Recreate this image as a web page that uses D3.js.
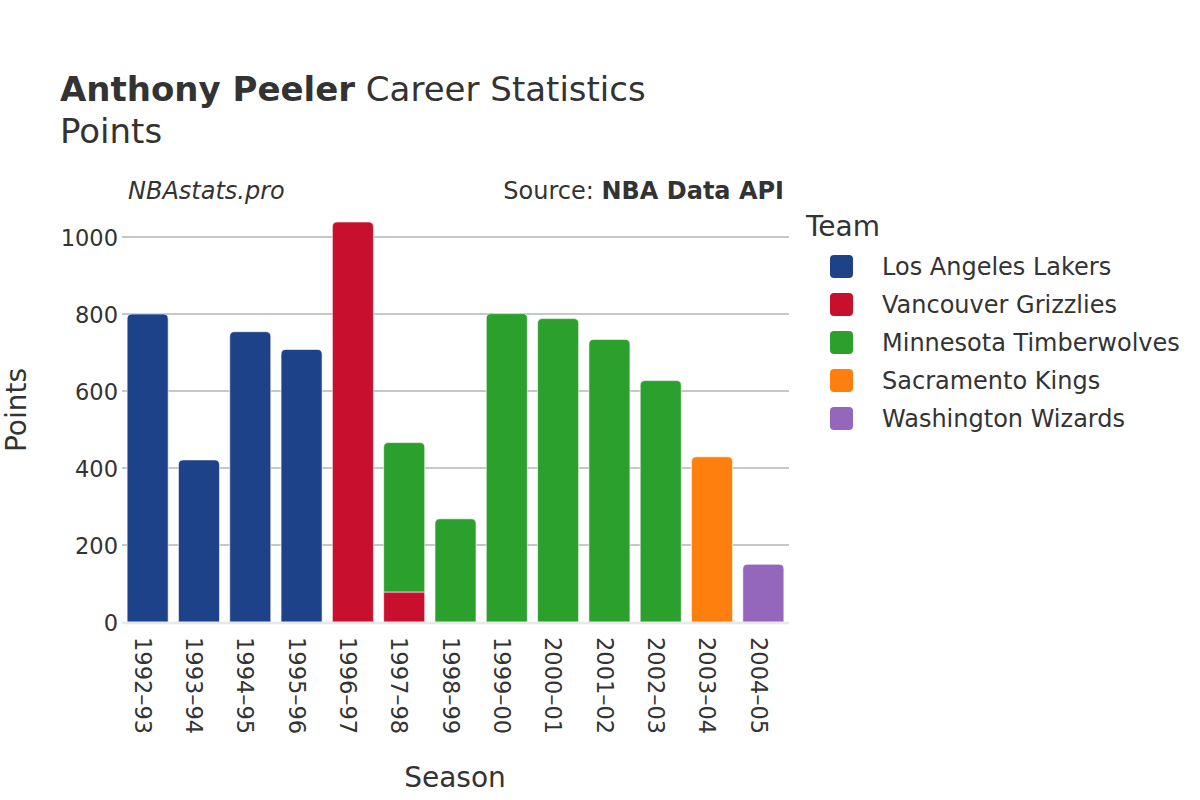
<!DOCTYPE html>
<html><head><meta charset="utf-8">
<script src="https://cdn.jsdelivr.net/npm/d3@7"></script>
<style>body{margin:0;background:#fff;} svg{display:block;font-family:"DejaVu Sans",sans-serif;}</style>
</head><body>
<svg id="chart" width="1200" height="800"></svg>
<script>
const seasons = ["1992–93","1993–94","1994–95","1995–96","1996–97","1997–98","1998–99","1999–00","2000–01","2001–02","2002–03","2003–04","2004–05"];
const teams = ["Los Angeles Lakers","Vancouver Grizzlies","Minnesota Timberwolves","Sacramento Kings","Washington Wizards"];
const teamColors = ["#1d428a","#c8102e","#2ca02c","#ff7f0e","#9467bd"];
const lakers       = [800, 421, 754, 708, 0, 0, 0, 0, 0, 0, 0, 0, 0];
const grizzlies    = [0, 0, 0, 0, 1039, 78, 0, 0, 0, 0, 0, 0, 0];
const timberwolves = [0, 0, 0, 0, 0, 388, 268, 801, 788, 734, 627, 0, 0];
const kings        = [0, 0, 0, 0, 0, 0, 0, 0, 0, 0, 0, 429, 0];
const wizards      = [0, 0, 0, 0, 0, 0, 0, 0, 0, 0, 0, 0, 150];
const yTicks = [0, 200, 400, 600, 800, 1000];

(function(){
const seriesVals = [lakers, grizzlies, timberwolves, kings, wizards];
const svg = d3.select("#chart");
const pLeft = 122, pRight = 789, pBottom = 622;

const x = d3.scaleBand().domain(seasons).range([pLeft, pRight]).paddingInner(0.2).paddingOuter(0.1);
const y = d3.scaleLinear().domain([0, 1000]).range([pBottom, pBottom - 385]);

// grid
svg.append("g").selectAll("line").data(yTicks.filter(d => d > 0)).join("line")
  .attr("x1", pLeft).attr("x2", pRight)
  .attr("y1", d => y(d)).attr("y2", d => y(d))
  .attr("stroke", "#b4b4b4").attr("stroke-width", 1.3);

// stacked bars
const rows = seasons.map((s, i) => {
  const r = {season: s};
  teams.forEach((t, k) => r[t] = seriesVals[k][i]);
  return r;
});
const stack = d3.stack().keys(teams)(rows);
const rad = 5;
function barPath(x0, w, y0, y1, roundTop) {
  if (!roundTop) return `M${x0},${y0}V${y1}H${x0+w}V${y0}Z`;
  const rr = Math.min(rad, (y0 - y1));
  return `M${x0},${y0}V${y1+rr}Q${x0},${y1} ${x0+rr},${y1}H${x0+w-rr}Q${x0+w},${y1} ${x0+w},${y1+rr}V${y0}Z`;
}
const topIdx = seasons.map((s, i) => {
  let t = -1; seriesVals.forEach((v, k) => { if (v[i] > 0) t = k; }); return t;
});
stack.forEach((layer, k) => {
  svg.append("g").selectAll("path").data(layer.filter((d, i) => seriesVals[k][i] > 0)).join("path")
    .attr("d", d => {
      const i = seasons.indexOf(d.data.season);
      return barPath(x(d.data.season), x.bandwidth(), y(d[0]), y(d[1]), topIdx[i] === k);
    })
    .attr("fill", teamColors[k])
    .attr("stroke", "rgba(255,255,255,0.6)").attr("stroke-width", 1);
});

// zero line
svg.append("line").attr("x1", pLeft).attr("x2", pRight).attr("y1", y(0)+1).attr("y2", y(0)+1)
  .attr("stroke", "#e8e8e8").attr("stroke-width", 2.5);

// y axis labels
const yAxis = d3.axisLeft(y).tickValues(yTicks).tickSize(0).tickPadding(4).tickFormat(d3.format("d"));
const gy = svg.append("g").attr("transform", `translate(${pLeft},0)`).call(yAxis);
gy.select(".domain").remove();
gy.selectAll("text").attr("font-size", 22.5).attr("fill", "#333").attr("font-family", "DejaVu Sans").attr("dy", "0.36em");

// x axis labels rotated
const xAxis = d3.axisBottom(x).tickSize(0).tickPadding(0);
const gx = svg.append("g").attr("transform", `translate(0,${pBottom})`).call(xAxis);
gx.select(".domain").remove();
gx.selectAll("text").attr("font-size", 22.5).attr("fill", "#333").attr("font-family", "DejaVu Sans")
  .attr("transform", "rotate(90)").attr("text-anchor", "start").attr("x", 15).attr("y", 0).attr("dy", "0.57em");

// titles
const title = svg.append("text").attr("x", 60).attr("y", 101).attr("font-size", 34).attr("fill", "#333");
title.append("tspan").attr("font-weight", "bold").text("Anthony Peeler");
title.append("tspan").text(" Career Statistics");
svg.append("text").attr("x", 60).attr("y", 143).attr("font-size", 34).attr("fill", "#333").text("Points");

svg.append("text").attr("x", 128).attr("y", 199).attr("font-size", 24).attr("font-style", "italic").attr("fill", "#333").text("NBAstats.pro");
const src = svg.append("text").attr("x", 784).attr("y", 199).attr("font-size", 24).attr("text-anchor", "end").attr("fill", "#333");
src.append("tspan").text("Source: ");
src.append("tspan").attr("font-weight", "bold").text("NBA Data API");

svg.append("text").attr("transform", "translate(26,410) rotate(-90)").attr("text-anchor", "middle")
  .attr("font-size", 28).attr("fill", "#333").text("Points");
svg.append("text").attr("x", 455).attr("y", 787).attr("text-anchor", "middle")
  .attr("font-size", 28).attr("fill", "#333").text("Season");

// legend
svg.append("text").attr("x", 806).attr("y", 236).attr("font-size", 28).attr("fill", "#333").text("Team");
const leg = svg.append("g").selectAll("g").data(teams).join("g")
  .attr("transform", (d, i) => `translate(0,${266 + i * 38})`);
leg.append("rect").attr("x", 830).attr("y", -11).attr("width", 23).attr("height", 23).attr("rx", 4)
  .attr("fill", (d, i) => teamColors[i]);
leg.append("text").attr("x", 882).attr("y", 0).attr("dy", "0.36em").attr("font-size", 24).attr("fill", "#333").text(d => d);
})();
</script>
</body></html>
